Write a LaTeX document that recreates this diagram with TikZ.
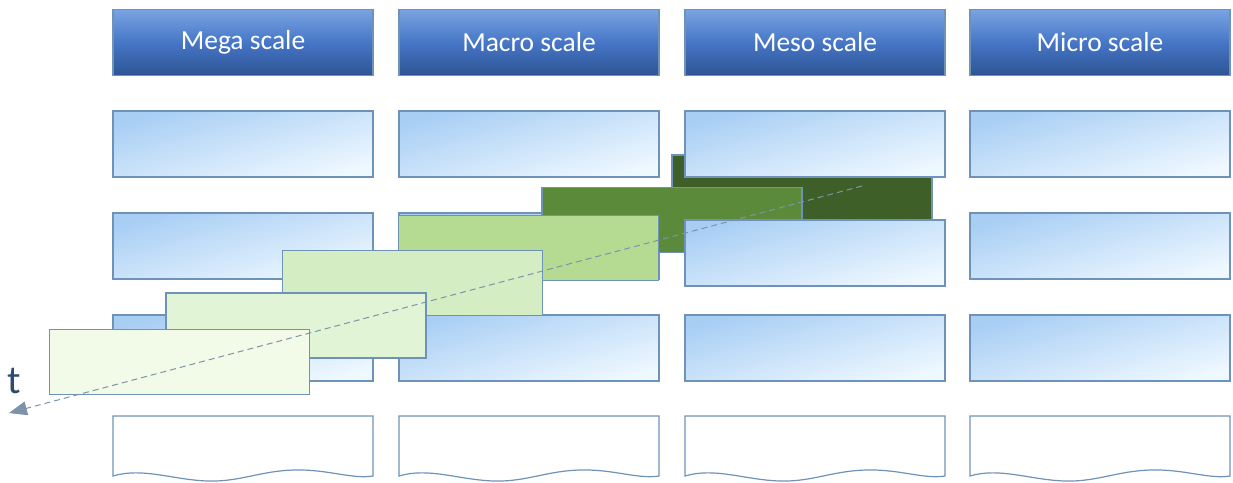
\documentclass[tikz,border=0pt]{standalone}
\usepackage{fontspec}
\setmainfont{Carlito}
\usetikzlibrary{arrows.meta}
\definecolor{hdrTop}{HTML}{7AA4E2}
\definecolor{hdrMid}{HTML}{4676C6}
\definecolor{hdrBot}{HTML}{2D5494}
\definecolor{cellA}{HTML}{A8CEF4}
\definecolor{cellB}{HTML}{EEF8FF}
\definecolor{edge}{HTML}{6F93B8}
\definecolor{gA}{HTML}{3F5F28}
\definecolor{gB}{HTML}{5B8A3B}
\definecolor{gC}{HTML}{B5DB93}
\definecolor{gD}{HTML}{D4EDC2}
\definecolor{gE}{HTML}{E2F4D6}
\definecolor{gF}{HTML}{F1FBE8}
\definecolor{tline}{HTML}{7F92AC}
\definecolor{tcol}{HTML}{2B4C70}
\begin{document}
\begin{tikzpicture}[x=1pt,y=-1pt,
  box/.style={draw=edge,line width=1.2pt,minimum width=260pt,minimum height=66pt,inner sep=0pt},
  cell/.style={box,top color=cellA,bottom color=cellB,shading angle=15},
  head/.style={box,top color=hdrTop,bottom color=hdrBot,middle color=hdrMid,text=white,font=\fontsize{27.5}{32}\selectfont},
  slab/.style={box,minimum height=65pt,fill=#1}]
\useasboundingbox (0,0) rectangle (1233,482);
% column heads
\foreach \n/\x/\s in {mega/243/Mega,macro/529/Macro,meso/815/Meso,micro/1100/Micro}
  \node[head] (h\n) at (\x,42.5) {\s{} scale};
\foreach \n/\x in {mega/243,macro/529,micro/1100}
  \foreach \r/\y in {1/144,2/246,3/348} \node[cell] (\n\r) at (\x,\y) {};
% time slices, back to front
\foreach \k/\x/\y/\c in {1/802/187.5/gA,2/672/220/gB,3/528.5/248/gC,4/412.5/283/gD,5/296/325.5/gE,6/179.5/362/gF}
  \node[slab=\c] (slice\k) at (\x,\y) {};
\node[cell] (meso1) at (815,144) {};
\node[cell] (meso2) at (815,253) {};
\node[cell] (meso3) at (815,348) {};
% open-ended bottom row
\foreach \x in {113,399,685,970}
  \draw[draw=edge,line width=1.2pt,fill=white] (\x,416) -- (\x+260,416) -- (\x+260,476)
    .. controls (\x+240,479) and (\x+220,471) .. (\x+190,470)
    .. controls (\x+150,469) and (\x+130,482) .. (\x+95,481)
    .. controls (\x+60,480) and (\x+30,467) .. (\x,476) -- cycle;
% time axis
\coordinate (tfrom) at (862,186);
\coordinate (tto) at (9,413);
\draw[tline,dash pattern=on 6pt off 4pt,line width=1pt,-{Triangle[length=18pt,width=14pt]}] (tfrom) -- (tto);
\node[text=tcol,font=\fontsize{40}{44}\selectfont,inner sep=0pt] (tlab) at (14,381) {t};
\end{tikzpicture}
\end{document}
